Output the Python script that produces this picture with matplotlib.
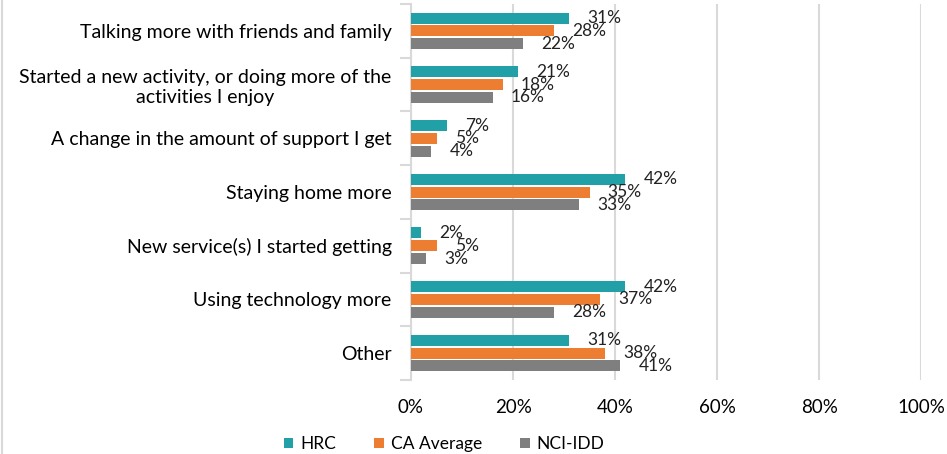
import matplotlib.pyplot as plt
import numpy as np

plt.rcParams["font.family"] = ["Lato", "DejaVu Sans"]

categories = [
    "Talking more with friends and family",
    "Started a new activity, or doing more of the\nactivities I enjoy",
    "A change in the amount of support I get",
    "Staying home more",
    "New service(s) I started getting",
    "Using technology more",
    "Other",
]
series_names = ["HRC", "CA Average", "NCI-IDD"]
hrc = [31, 21, 7, 42, 2, 42, 31]
ca_average = [28, 18, 5, 35, 5, 37, 38]
nci_idd = [22, 16, 4, 33, 3, 28, 41]
colors = ["#22A0A8", "#ED7D31", "#7F7F7F"]

fs = 14

fig = plt.figure(figsize=(9.47, 4.54), dpi=100)
ax = fig.add_axes([0.434, 0.163, 0.539, 0.828])

y = np.arange(len(categories))
step = 0.238
height = 0.205
for i, (vals, name, color) in enumerate(zip([hrc, ca_average, nci_idd], series_names, colors)):
    pos = y + (i - 1) * step
    ax.barh(pos, vals, height=height, color=color, label=name, zorder=3)
    for p, v in zip(pos, vals):
        ax.annotate(
            "{0}%".format(v),
            xy=(v, p),
            xytext=(13, 0),
            textcoords="offset points",
            ha="left",
            va="center",
            fontsize=12.5,
            color="#222222",
            zorder=4,
        )

ax.set_ylim(len(categories) - 0.5, -0.5)
ax.set_xlim(0, 100)
ax.set_xticks(np.arange(0, 101, 20))
ax.set_xticklabels(["{0}%".format(t) for t in range(0, 101, 20)], fontsize=13.5)
ax.xaxis.grid(True, color="#D9D9D9", linewidth=1.5, zorder=0)
ax.tick_params(axis="x", length=0, pad=14)

# category labels without ticks, tick marks at group boundaries
ax.set_yticks(y)
ax.set_yticklabels(categories, fontsize=fs, ha="right", multialignment="center")
ax.tick_params(axis="y", which="major", length=0, pad=14)
ax.set_yticks(np.arange(-0.5, len(categories), 1), minor=True)
ax.tick_params(axis="y", which="minor", length=8, color="#D9D9D9", width=1.5)

for s in ["top", "right", "bottom"]:
    ax.spines[s].set_visible(False)
ax.spines["left"].set_color("#D9D9D9")
ax.spines["left"].set_linewidth(1.5)

fig.legend(
    loc="lower center",
    bbox_to_anchor=(0.469, -0.03),
    ncol=3,
    frameon=False,
    fontsize=12.5,
    handlelength=0.55,
    handleheight=0.55,
    handletextpad=0.4,
    columnspacing=2.2,
)

# light border on the figure's left edge
fig.add_artist(plt.Line2D([0.002, 0.002], [0, 1], color="#D9D9D9", linewidth=1.5, transform=fig.transFigure))

fig.savefig("out.png", dpi=100)
